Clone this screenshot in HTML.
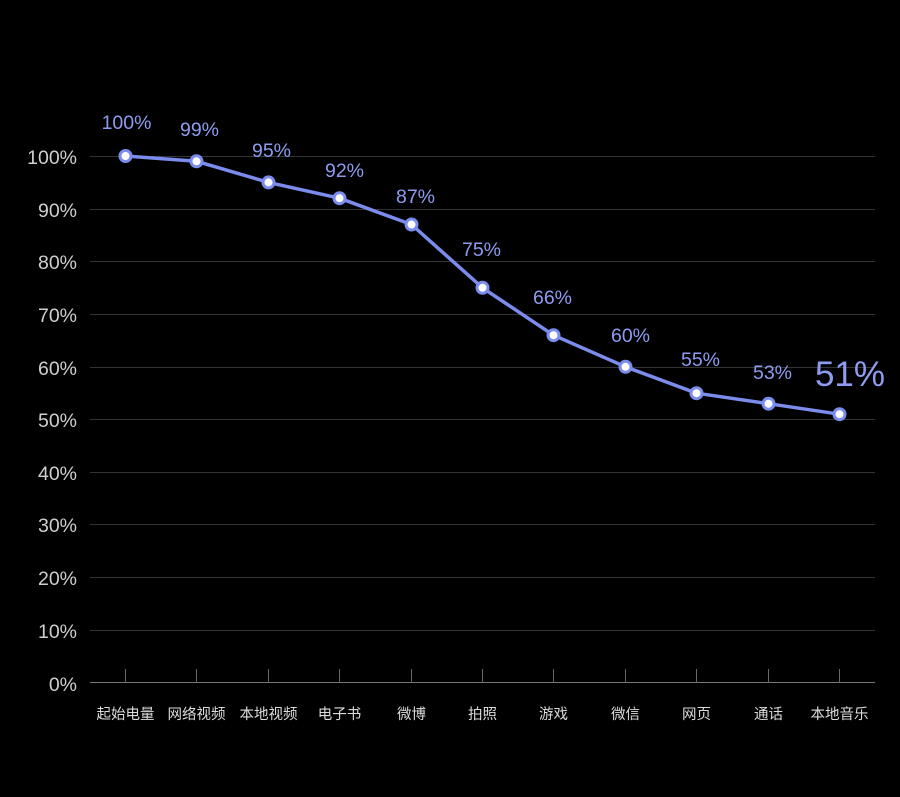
<!DOCTYPE html>
<html><head><meta charset="utf-8"><style>
html,body{margin:0;padding:0;background:#000;}
svg{display:block;}
</style></head><body>
<svg width="900" height="797" viewBox="0 0 900 797" xmlns="http://www.w3.org/2000/svg" font-family="'Liberation Sans','Noto Sans CJK SC',sans-serif">
<rect width="900" height="797" fill="#000"/>
<g stroke="#333" stroke-width="1">
<line x1="90" y1="156.5" x2="875" y2="156.5"/>
<line x1="90" y1="209.5" x2="875" y2="209.5"/>
<line x1="90" y1="261.5" x2="875" y2="261.5"/>
<line x1="90" y1="314.5" x2="875" y2="314.5"/>
<line x1="90" y1="367.5" x2="875" y2="367.5"/>
<line x1="90" y1="419.5" x2="875" y2="419.5"/>
<line x1="90" y1="472.5" x2="875" y2="472.5"/>
<line x1="90" y1="524.5" x2="875" y2="524.5"/>
<line x1="90" y1="577.5" x2="875" y2="577.5"/>
<line x1="90" y1="630.5" x2="875" y2="630.5"/>
</g>
<line x1="90" y1="682.5" x2="875" y2="682.5" stroke="#777" stroke-width="1"/>
<g stroke="#666" stroke-width="1">
<line x1="125.5" y1="669" x2="125.5" y2="683"/>
<line x1="196.5" y1="669" x2="196.5" y2="683"/>
<line x1="268.5" y1="669" x2="268.5" y2="683"/>
<line x1="339.5" y1="669" x2="339.5" y2="683"/>
<line x1="411.5" y1="669" x2="411.5" y2="683"/>
<line x1="482.5" y1="669" x2="482.5" y2="683"/>
<line x1="553.5" y1="669" x2="553.5" y2="683"/>
<line x1="625.5" y1="669" x2="625.5" y2="683"/>
<line x1="696.5" y1="669" x2="696.5" y2="683"/>
<line x1="768.5" y1="669" x2="768.5" y2="683"/>
<line x1="839.5" y1="669" x2="839.5" y2="683"/>
</g>
<g fill="#cfcfcf" font-size="19.5" text-anchor="end">
<text x="77" y="164">100%</text>
<text x="77" y="217">90%</text>
<text x="77" y="269">80%</text>
<text x="77" y="322">70%</text>
<text x="77" y="375">60%</text>
<text x="77" y="427">50%</text>
<text x="77" y="480">40%</text>
<text x="77" y="532">30%</text>
<text x="77" y="585">20%</text>
<text x="77" y="638">10%</text>
<text x="77" y="691">0%</text>
</g>
<g fill="#dcdcdc" font-size="14.5" text-anchor="middle">
<text x="125.5" y="719">起始电量</text>
<text x="196.5" y="719">网络视频</text>
<text x="268.5" y="719">本地视频</text>
<text x="339.5" y="719">电子书</text>
<text x="411.5" y="719">微博</text>
<text x="482.5" y="719">拍照</text>
<text x="553.5" y="719">游戏</text>
<text x="625.5" y="719">微信</text>
<text x="696.5" y="719">网页</text>
<text x="768.5" y="719">通话</text>
<text x="839.5" y="719">本地音乐</text>
</g>
<polyline fill="none" stroke="#7b8cec" stroke-width="3.5" stroke-linejoin="round" points="125.5,156 196.5,161.3 268.5,182.4 339.5,198.2 411.5,224.5 482.5,287.8 553.5,335.2 625.5,366.8 696.5,393.2 768.5,403.7 839.5,414.2"/>
<g fill="#ffffff" stroke="#7b8cec" stroke-width="3">
<circle cx="125.5" cy="156" r="5.5"/>
<circle cx="196.5" cy="161.3" r="5.5"/>
<circle cx="268.5" cy="182.4" r="5.5"/>
<circle cx="339.5" cy="198.2" r="5.5"/>
<circle cx="411.5" cy="224.5" r="5.5"/>
<circle cx="482.5" cy="287.8" r="5.5"/>
<circle cx="553.5" cy="335.2" r="5.5"/>
<circle cx="625.5" cy="366.8" r="5.5"/>
<circle cx="696.5" cy="393.2" r="5.5"/>
<circle cx="768.5" cy="403.7" r="5.5"/>
<circle cx="839.5" cy="414.2" r="5.5"/>
</g>
<g fill="#8e9cf0" font-size="19.5" text-anchor="middle">
<text x="126.5" y="129">100%</text>
<text x="199.5" y="136">99%</text>
<text x="271.5" y="157">95%</text>
<text x="344.5" y="177">92%</text>
<text x="415.5" y="203">87%</text>
<text x="481.5" y="256">75%</text>
<text x="552.5" y="304">66%</text>
<text x="630.5" y="342">60%</text>
<text x="700.5" y="366">55%</text>
<text x="772.5" y="379">53%</text>
</g>
<text x="850" y="386" fill="#8e9cf0" font-size="35" text-anchor="middle">51%</text>
</svg>
</body></html>
